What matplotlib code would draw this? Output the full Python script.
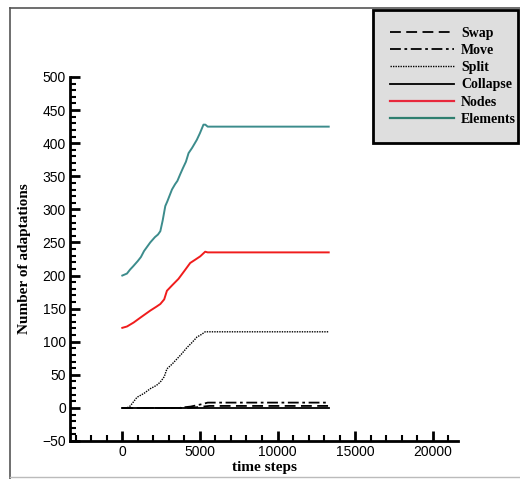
import numpy as np
import matplotlib
matplotlib.use("Agg")
import matplotlib.pyplot as plt
from matplotlib.lines import Line2D
from matplotlib.ticker import MultipleLocator

# データ
t_elem = [0, 300, 500, 700, 1000, 1200, 1400, 1800, 2100, 2300, 2450, 2600, 2770,
          2900, 3200, 3400, 3550, 3730, 3900, 4100, 4270, 4500, 4800, 5000, 5230,
          5350, 5500, 13300]
v_elem = [200, 203, 209, 214, 222, 228, 237, 250, 258, 262, 267, 283, 305,
          312, 330, 338, 343, 353, 362, 372, 385, 393, 405, 415, 428,
          428, 425, 425]

t_nodes = [0, 300, 730, 1200, 1800, 2200, 2450, 2700, 2875, 3200, 3620, 4000,
           4375, 4700, 5020, 5340, 5500, 13300]
v_nodes = [121, 123, 129, 137, 147, 153, 157, 164, 177, 185, 195, 207,
           219, 224, 229, 236, 235, 235]

t_split = [0, 300, 515, 945, 1400, 1800, 2200, 2445, 2700, 2875, 3200, 3520,
           3800, 4160, 4500, 4805, 5100, 5340, 13300]
v_split = [0, 0, 3, 16, 22, 29, 34, 39, 47, 59, 66, 74, 81, 91, 99, 107,
           111, 115, 115]

t_move = [0, 3700, 4000, 4400, 4800, 5200, 5500, 13300]
v_move = [0, 0, 1, 2, 4, 6, 8, 8]

t_swap = [0, 4200, 4800, 5200, 5600, 13300]
v_swap = [0, 0, 1, 2, 3, 3]

t_coll = [0, 5000, 13300]
v_coll = [0, 0, 0]

labels = ["Swap", "Move", "Split", "Collapse", "Nodes", "Elements"]

fig = plt.figure(figsize=(5.2, 4.79), dpi=100)
W, H = 520, 479
ax = fig.add_axes([70 / W, 1 - 441 / H, (458 - 70) / W, (441 - 77) / H])

ax.plot(t_swap, v_swap, color="black", lw=1.3, ls=(0, (6, 3)))
ax.plot(t_move, v_move, color="black", lw=1.3, ls=(0, (6, 2, 1.5, 2)))
ax.plot(t_split, v_split, color="black", lw=1.0, ls=(0, (1, 0.8)))
ax.plot(t_coll, v_coll, color="black", lw=1.3)
ax.plot(t_nodes, v_nodes, color="#f01c1c", lw=1.4)
ax.plot(t_elem, v_elem, color="#3c8c8c", lw=1.4)

ax.set_xlim(-3370, 21630)
ax.set_ylim(-50, 500)
ax.xaxis.set_major_locator(MultipleLocator(5000))
ax.xaxis.set_minor_locator(MultipleLocator(1000))
ax.yaxis.set_major_locator(MultipleLocator(50))
ax.yaxis.set_minor_locator(MultipleLocator(10))

for s in ["top", "right"]:
    ax.spines[s].set_visible(False)
for s in ["left", "bottom"]:
    ax.spines[s].set_linewidth(2)

ax.tick_params(which="major", direction="in", length=7, width=2,
               labelsize=10, pad=3)
ax.tick_params(which="minor", direction="in", length=4, width=1.5)
for lab in ax.get_xticklabels() + ax.get_yticklabels():
    lab.set_family(["Liberation Sans", "DejaVu Sans"])

ax.set_xlabel("time steps", family="Liberation Serif", fontweight="bold",
              fontsize=11, labelpad=1)
ax.set_ylabel("Number of adaptations", family="Liberation Serif",
              fontweight="bold", fontsize=11, labelpad=8)

# 凡例
handles = [
    Line2D([], [], color="black", lw=1.3, ls=(0, (6, 3))),
    Line2D([], [], color="black", lw=1.3, ls=(0, (6, 2, 1.5, 2))),
    Line2D([], [], color="black", lw=1.0, ls=(0, (1, 0.8))),
    Line2D([], [], color="black", lw=1.3),
    Line2D([], [], color="#e8283c", lw=1.6),
    Line2D([], [], color="#2f7f6f", lw=1.6),
]
leg = fig.legend(handles, labels, loc="upper left",
                 bbox_to_anchor=(373 / W, 1 - 10 / H, (518 - 373) / W, 0.001),
                 mode="expand", prop={"family": "Liberation Serif",
                                      "weight": "bold", "size": 10},
                 handlelength=4.6, handletextpad=0.5, labelspacing=0.3,
                 borderpad=1.25, borderaxespad=0, fancybox=False,
                 framealpha=1)
leg.get_frame().set_edgecolor("black")
leg.get_frame().set_linewidth(2)
leg.get_frame().set_facecolor("#dedede")

# 外枠
frame_col = "#555555"
fig.add_artist(Line2D([10 / W, 10 / W], [0, 1 - 8 / H], color=frame_col, lw=1.2))
fig.add_artist(Line2D([10 / W, 1], [1 - 8 / H, 1 - 8 / H], color=frame_col, lw=1.2))
fig.add_artist(Line2D([10 / W, 1], [2 / H, 2 / H], color="#bbbbbb", lw=1.0))

fig.savefig("out.png", dpi=100)
